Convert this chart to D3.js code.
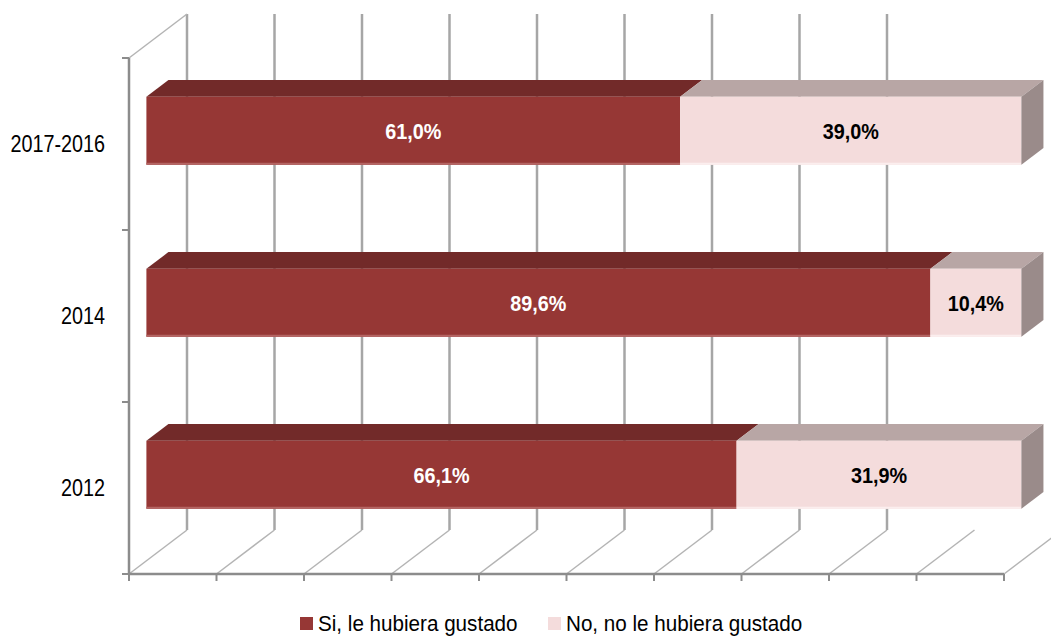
<!DOCTYPE html>
<html>
<head>
<meta charset="utf-8">
<script src="https://cdn.jsdelivr.net/npm/d3@7"></script>
<style>
  body { margin: 0; background: #fff; }
  svg { display: block; font-family: "Liberation Sans", Arial, sans-serif; }
</style>
</head>
<body>
<script>
// data
var categories = ["2017-2016", "2014", "2012"];
var siValues = [61.0, 89.6, 66.1];
var noValues = [39.0, 10.4, 31.9];
var seriesNames = ["Si, le hubiera gustado", "No, no le hubiera gustado"];
var seriesKeys = ["si", "no"];

var width = 1051, height = 636;

// 3d look: depth offset of the back wall
var DX = 58, DY = -44;
var z0 = 0.3, z1 = 0.68;   // bar front / back depth

var colors = {
  si: { front: "#963735", top: "#722a29", side: "#5e2221", edge: "#b46563" },
  no: { front: "#f4dcdc", top: "#b8a6a5", side: "#9a8b8a", edge: "#fbeeee" }
};

var svg = d3.select("body").append("svg")
  .attr("width", width)
  .attr("height", height);

// scales (front plane)
var x = d3.scaleLinear().domain([0, 1]).range([129, 1004]);
var y = d3.scaleBand().domain(categories).range([58, 574])
  .paddingInner(0.605).paddingOuter(0.3025);
var yAxisScale = d3.scalePoint().domain(d3.range(categories.length + 1)).range([58, 574]);

function pt(v, yy, z) { return [x(v) + z * DX, yy + z * DY]; }
function poly(points) { return points.map(function(p) { return p.join(","); }).join(" "); }

var rows = categories.map(function(c, i) { return { cat: c, si: siValues[i], no: noValues[i] }; });
var stacked = d3.stack().keys(seriesKeys).offset(d3.stackOffsetExpand)(rows);

var xTicks = x.ticks(10);

// back wall gridlines
svg.append("g").selectAll("line")
  .data(xTicks.filter(function(t) { return t <= 0.8 + 1e-9; }))
  .enter().append("line")
  .attr("x1", function(d) { return pt(d, 58, 1)[0]; })
  .attr("x2", function(d) { return pt(d, 574, 1)[0]; })
  .attr("y1", pt(0, 58, 1)[1])
  .attr("y2", pt(0, 574, 1)[1])
  .attr("stroke", "#a6a6a6")
  .attr("stroke-width", 2.5);

// floor lines
svg.append("g").selectAll("line")
  .data(xTicks)
  .enter().append("line")
  .attr("x1", function(d) { return pt(d, 574, 0)[0]; })
  .attr("y1", function(d) { return pt(d, 574, 0)[1]; })
  .attr("x2", function(d) { return pt(d, 574, 1)[0]; })
  .attr("y2", function(d) { return pt(d, 574, 1)[1]; })
  .attr("stroke", "#b4b4b4")
  .attr("stroke-width", 1.5);

// side wall top edge
svg.append("line")
  .attr("x1", pt(0, 58, 0)[0]).attr("y1", pt(0, 58, 0)[1])
  .attr("x2", pt(0, 58, 1)[0]).attr("y2", pt(0, 58, 1)[1])
  .attr("stroke", "#b4b4b4")
  .attr("stroke-width", 1.5);

// axes
var axisColor = "#8c8c8c";
svg.append("line")
  .attr("x1", x(0)).attr("x2", x(0)).attr("y1", 58).attr("y2", 574)
  .attr("stroke", axisColor).attr("stroke-width", 2.5);
svg.append("line")
  .attr("x1", x(0)).attr("x2", x(1)).attr("y1", 574).attr("y2", 574)
  .attr("stroke", axisColor).attr("stroke-width", 2.5);

svg.append("g").selectAll("line")
  .data(yAxisScale.domain())
  .enter().append("line")
  .attr("x1", x(0) - 7).attr("x2", x(0))
  .attr("y1", function(d) { return yAxisScale(d); })
  .attr("y2", function(d) { return yAxisScale(d); })
  .attr("stroke", axisColor).attr("stroke-width", 2);

svg.append("g").selectAll("line")
  .data(xTicks)
  .enter().append("line")
  .attr("x1", function(d) { return x(d); })
  .attr("x2", function(d) { return x(d); })
  .attr("y1", 574).attr("y2", 581)
  .attr("stroke", axisColor).attr("stroke-width", 2);

// category labels
svg.append("g").selectAll("text")
  .data(categories)
  .enter().append("text")
  .attr("transform", function(d) { return "translate(105," + (y(d) - y.step() * 0.3025 + y.step() / 2) + ") scale(0.86,1)"; })
  .attr("dy", "0.36em")
  .attr("text-anchor", "end")
  .attr("font-size", "23px")
  .attr("fill", "#000")
  .text(function(d) { return d; });

// bars
var bars = svg.append("g");
stacked.forEach(function(series, si) {
  var key = series.key;
  series.forEach(function(d, i) {
    var cat = categories[i];
    var top = y(cat), bot = y(cat) + y.bandwidth();
    var g = bars.append("g");
    g.append("polygon")
      .attr("points", poly([pt(d[0], top, z0), pt(d[1], top, z0), pt(d[1], top, z1), pt(d[0], top, z1)]))
      .attr("fill", colors[key].top);
    g.append("polygon")
      .attr("points", poly([pt(d[0], top, z0), pt(d[1], top, z0), pt(d[1], bot, z0), pt(d[0], bot, z0)]))
      .attr("fill", colors[key].front);
    g.append("line")
      .attr("x1", pt(d[0], bot, z0)[0]).attr("x2", pt(d[1], bot, z0)[0])
      .attr("y1", pt(0, bot, z0)[1] - 1).attr("y2", pt(0, bot, z0)[1] - 1)
      .attr("stroke", colors[key].edge).attr("stroke-width", 2);
    if (si === stacked.length - 1) {
      g.append("polygon")
        .attr("points", poly([pt(d[1], top, z0), pt(d[1], top, z1), pt(d[1], bot, z1), pt(d[1], bot, z0)]))
        .attr("fill", colors[key].side);
    }
    var raw = key === "si" ? siValues[i] : noValues[i];
    var c = pt((d[0] + d[1]) / 2, (top + bot) / 2, z0);
    g.append("text")
      .attr("transform", "translate(" + c[0] + "," + c[1] + ") scale(0.9,1)")
      .attr("dy", "0.36em")
      .attr("text-anchor", "middle")
      .attr("font-size", "22px")
      .attr("font-weight", "bold")
      .attr("fill", key === "si" ? "#fff" : "#000")
      .text(d3.format(".1f")(raw).replace(".", ",") + "%");
  });
});

// legend
var legendX = [300, 548];
var legend = svg.append("g").selectAll("g")
  .data(seriesKeys)
  .enter().append("g")
  .attr("transform", function(d, i) { return "translate(" + legendX[i] + ",617)"; });
legend.append("rect")
  .attr("width", 13).attr("height", 13)
  .attr("fill", function(d) { return colors[d].front; });
legend.append("text")
  .attr("transform", "translate(18,14) scale(0.96,1)")
  .attr("font-size", "21.5px")
  .attr("fill", "#000")
  .text(function(d, i) { return seriesNames[i]; });
</script>
</body>
</html>
